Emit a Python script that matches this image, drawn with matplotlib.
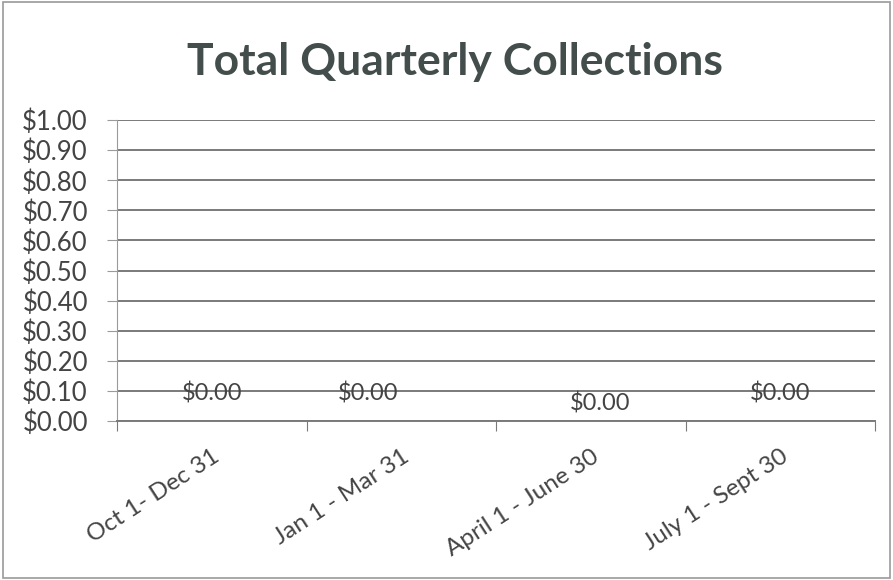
import matplotlib
matplotlib.use("Agg")
import matplotlib.pyplot as plt
from matplotlib.ticker import FuncFormatter, MultipleLocator

categories = ["Oct 1- Dec 31", "Jan 1 - Mar 31", "April 1 - June 30", "July 1 - Sept 30"]
values = [0.0, 0.0, 0.0, 0.0]
label_texts = ["$0.00", "$0.00", "$0.00", "$0.00"]

plt.rcParams['font.family'] = ['Lato', 'DejaVu Sans']

fig = plt.figure(figsize=(8.93, 5.80), dpi=100)
fig.patch.set_facecolor("white")
ax = fig.add_axes([0.131, 0.274, 0.849, 0.519])

x = list(range(len(categories)))
bars = ax.bar(x, values, width=0.6, color="#4a7ebb")

ax.set_xlim(-0.5, len(categories) - 0.5)
ax.set_ylim(0, 1.0)
ax.yaxis.set_major_locator(MultipleLocator(0.1))
ax.yaxis.set_major_formatter(FuncFormatter(lambda v, p: f"${v:.2f}"))
ax.grid(axis="y", color="#7a7a7a", linewidth=1.4)
ax.set_axisbelow(True)

for s in ["top", "right"]:
    ax.spines[s].set_visible(False)
ax.spines["left"].set_color("#9a9a9a")
ax.spines["bottom"].set_color("#7a7a7a")
ax.spines["bottom"].set_linewidth(1.4)

ax.set_xticks([i - 0.5 for i in range(len(categories) + 1)], minor=False)
ax.set_xticklabels([])
ax.set_xticks(x, minor=True)
ax.set_xticklabels(categories, minor=True, rotation=33, ha="right",
                   rotation_mode="anchor", fontsize=17.5, color="#444444")
ax.tick_params(axis="x", which="minor", length=0, pad=18)
ax.tick_params(axis="x", which="major", length=7, color="#7a7a7a")
ax.tick_params(axis="y", length=7, color="#9a9a9a", labelsize=18.5, labelcolor="#444444", pad=14)

offsets = [(0, 0), (-24, 0), (6.5, -7), (0, 0)]
for xi, v, t, off in zip(x, values, label_texts, offsets):
    ax.annotate(t, (xi, v), xytext=(off[0], 20 + off[1]), textcoords="offset points",
                ha="center", va="center", fontsize=17, color="#444444")

fig.suptitle("Total Quarterly Collections", x=0.51, y=0.927, fontsize=32,
             fontweight="bold", color="#434d4b")

fig.add_artist(plt.Rectangle((0.003, 0.003), 0.994, 0.994, transform=fig.transFigure,
                             fill=False, edgecolor="#9a9a9a", linewidth=1.2))

fig.savefig("out.png", dpi=100, facecolor="white")
